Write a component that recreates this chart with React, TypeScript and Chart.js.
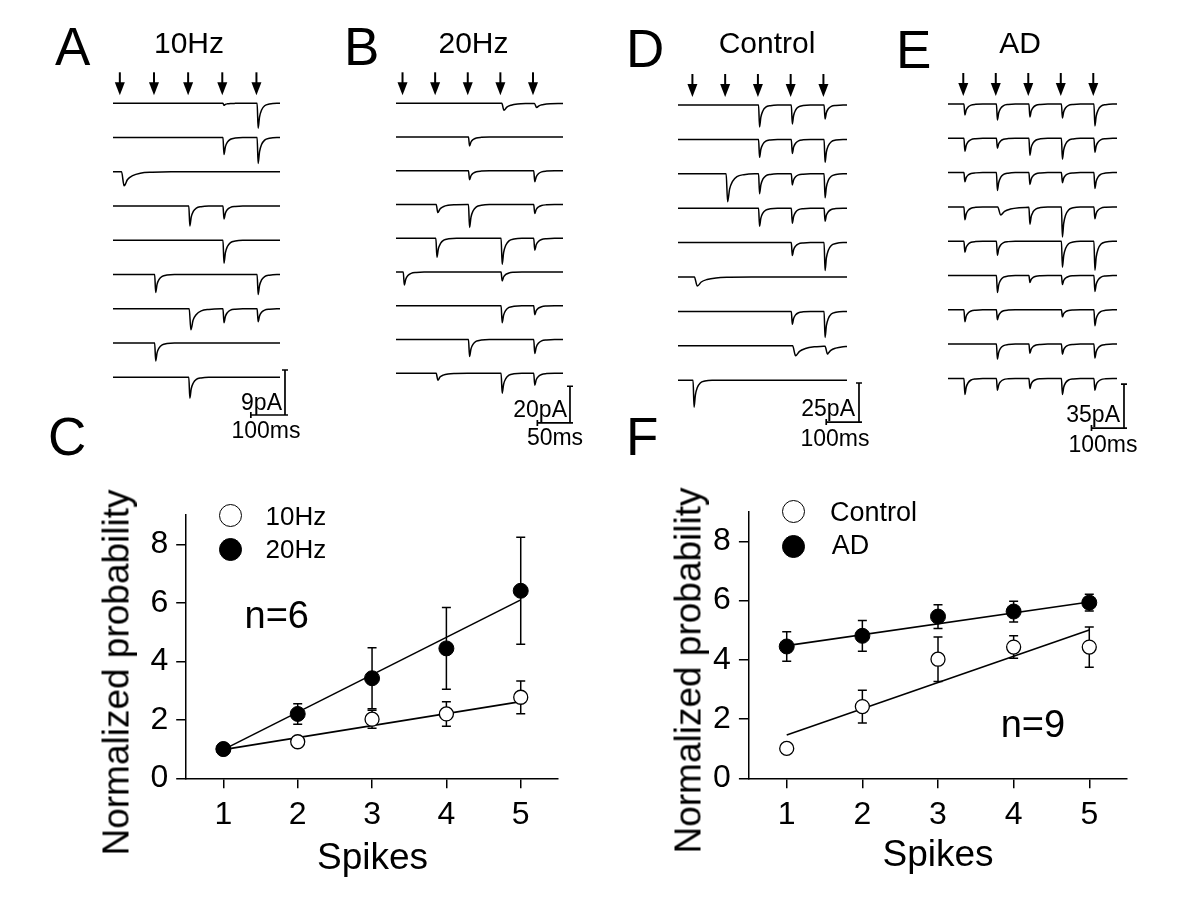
import React, { useEffect, useRef } from "react";
import { Chart, registerables } from "chart.js";
Chart.register(...registerables);

const FONT = '"Liberation Sans", Arial, Helvetica, sans-serif';
Chart.defaults.font.family = FONT;
Chart.defaults.color = "#000";

// ---------- EPSC waveform template (time after stimulus, fraction of peak) ----------
const EPSC_T_MS = [0, 2, 5, 9, 15, 24, 38, 60];
const EPSC_FRAC = [0, 0, 1, 0.55, 0.27, 0.1, 0.03, 0];

// ---------- Panel A: 10 Hz ----------
const A_STIM_MS = [20, 120, 220, 320, 420];
const A_AMPS_PA = [
  [0, 0, 0, 0.4, 5.0],
  [0, 0, 0, 3.4, 5.2],
  [2.8, 0, 0, 0, 0],
  [0, 0, 4.0, 2.6, 0],
  [0, 0, 0, 4.6, 0],
  [0, 3.6, 0, 0, 4.0],
  [0, 0, 4.2, 2.8, 2.6],
  [0, 3.6, 0, 0, 0],
  [0, 0, 4.2, 0, 0],
];
const A_SLOW = [[2, 0, 2.5], [6, 2, 1.6]];

// ---------- Panel B: 20 Hz ----------
const B_STIM_MS = [10, 60, 110, 160, 210];
const B_AMPS_PA = [
  [0, 0, 0, 3.8, 2.2],
  [0, 0, 4.9, 0, 0],
  [0, 0, 4.9, 0, 6.0],
  [0, 4.4, 12.5, 0, 4.9],
  [0, 10.4, 0, 14.2, 6.5],
  [7.1, 0, 0, 4.9, 0],
  [0, 0, 0, 9.3, 4.9],
  [0, 0, 9.3, 0, 7.6],
  [0, 3.8, 0, 10.9, 6.5],
];
const B_SLOW = [[0, 3, 2], [0, 4, 2], [3, 1, 1.5], [8, 1, 1.5]];

// ---------- Panel D: Control ----------
const D_STIM_MS = [44, 144, 244, 344, 444];
const D_AMPS_PA = [
  [0, 0, 14.1, 12.2, 9.0],
  [0, 0, 11.5, 9.0, 14.7],
  [0, 17.9, 12.8, 7.1, 15.4],
  [0, 0, 11.5, 9.6, 8.3],
  [0, 0, 0, 8.3, 17.9],
  [5.8, 0, 0, 0, 0],
  [0, 0, 0, 8.3, 16.7],
  [0, 0, 0, 6.4, 5.1],
  [17.3, 0, 0, 0, 0],
];
const D_SLOW = [[5, 0, 3], [7, 3, 3], [7, 4, 2.5], [2, 1, 1.5]];

// ---------- Panel E: AD ----------
const E_STIM_MS = [47, 147, 247, 347, 447];
const E_AMPS_PA = [
  [8.8, 12.7, 10.3, 11.1, 17.5],
  [10.3, 8.0, 13.5, 16.7, 11.1],
  [7.2, 14.3, 9.5, 8.0, 12.7],
  [10.3, 6.4, 13.5, 23.9, 9.5],
  [8.8, 11.1, 0, 20.7, 23.1],
  [0, 13.5, 5.6, 7.2, 12.7],
  [9.5, 8.0, 0, 5.6, 12.7],
  [0, 11.9, 7.2, 8.0, 11.1],
  [12.7, 9.5, 8.0, 12.7, 9.5],
];
const E_SLOW = [[3, 1, 3]];

// ---------- Panel C ----------
const SPIKES = [1, 2, 3, 4, 5];
const Y_TICKS = [0, 2, 4, 6, 8];
const HZ10_MEAN = [1.0, 1.25, 2.02, 2.2, 2.77];
const HZ10_SEM = [0, 0, 0.31, 0.42, 0.56];
const HZ20_MEAN = [1.0, 2.2, 3.42, 4.44, 6.41];
const HZ20_SEM = [0, 0.35, 1.04, 1.4, 1.83];
const FIT_X = [1, 5];
const FIT_HZ10 = [0.98, 2.62];
const FIT_HZ20 = [0.98, 6.1];

// ---------- Panel F ----------
const CTRL_MEAN = [1.01, 2.42, 4.02, 4.43, 4.43];
const CTRL_SEM = [0, 0.55, 0.75, 0.38, 0.68];
const AD_MEAN = [4.45, 4.81, 5.46, 5.63, 5.93];
const AD_SEM = [0.5, 0.52, 0.4, 0.35, 0.28];
const FIT_CTRL = [1.46, 5.01];
const FIT_AD = [4.48, 5.95];

// ---------- helpers ----------
function shapeAt(u: number): number {
  const n = EPSC_T_MS.length;
  if (u <= EPSC_T_MS[0] || u >= EPSC_T_MS[n - 1]) return 0;
  for (let k = 0; k < n - 1; k++) {
    if (u >= EPSC_T_MS[k] && u < EPSC_T_MS[k + 1]) {
      const r = (u - EPSC_T_MS[k]) / (EPSC_T_MS[k + 1] - EPSC_T_MS[k]);
      return EPSC_FRAC[k] + r * (EPSC_FRAC[k + 1] - EPSC_FRAC[k]);
    }
  }
  return 0;
}

function buildTrace(amps: number[], stims: number[], offset: number, tScale: number, slowOf: (k: number) => number, xMax: number) {
  const events = amps
    .map((a, k) => ({ a, t: stims[k], f: slowOf(k) * tScale }))
    .filter((e) => e.a > 0);
  const times = new Set<number>([0, xMax]);
  events.forEach((e) =>
    EPSC_T_MS.forEach((tt) => {
      const t = e.t + tt * e.f;
      if (t <= xMax) times.add(t);
    })
  );
  const sorted = Array.from(times).sort((p, q) => p - q);
  return sorted.map((t) => ({
    x: t,
    y: offset - events.reduce((s, e) => s + e.a * shapeAt((t - e.t) / e.f), 0),
  }));
}

const arrowPlugin = (stims: number[]) => ({
  id: "stimArrows",
  afterDraw(chart: any) {
    const { ctx } = chart;
    const xs = chart.scales.x;
    const ys = chart.scales.y;
    const b0 = ys.getPixelForValue(0);
    ctx.save();
    ctx.fillStyle = "#000";
    ctx.strokeStyle = "#000";
    ctx.lineWidth = 2;
    stims.forEach((t) => {
      const x = xs.getPixelForValue(t);
      const tip = b0 - 8;
      ctx.beginPath();
      ctx.moveTo(x, tip - 23);
      ctx.lineTo(x, tip - 10);
      ctx.stroke();
      ctx.beginPath();
      ctx.moveTo(x - 5, tip - 13);
      ctx.lineTo(x + 5, tip - 13);
      ctx.lineTo(x, tip);
      ctx.closePath();
      ctx.fill();
    });
    ctx.restore();
  },
});

const barPlugin = (bar: { ms: number; pA: number; x: number; y: number }) => ({
  id: "scaleBar",
  afterDraw(chart: any) {
    const { ctx } = chart;
    const xs = chart.scales.x;
    const ys = chart.scales.y;
    const x0 = xs.getPixelForValue(bar.x);
    const y0 = ys.getPixelForValue(bar.y);
    const x1 = xs.getPixelForValue(bar.x - bar.ms);
    const y1 = ys.getPixelForValue(bar.y + bar.pA);
    ctx.save();
    ctx.strokeStyle = "#000";
    ctx.lineWidth = 1.7;
    ctx.beginPath();
    ctx.moveTo(x1, y0);
    ctx.lineTo(x0, y0);
    ctx.lineTo(x0, y1);
    ctx.moveTo(x0 - 3, y1);
    ctx.lineTo(x0 + 3, y1);
    ctx.moveTo(x0 - 3, y0);
    ctx.lineTo(x0 + 3, y0);
    ctx.moveTo(x1, y0 - 3);
    ctx.lineTo(x1, y0 + 3);
    ctx.stroke();
    ctx.restore();
  },
});

const errPlugin = (groups: { mean: number[]; err: number[] }[]) => ({
  id: "errBars",
  beforeDatasetsDraw(chart: any) {
    const { ctx } = chart;
    const xs = chart.scales.x;
    const ys = chart.scales.y;
    ctx.save();
    ctx.strokeStyle = "#000";
    ctx.lineWidth = 1.5;
    groups.forEach((g) =>
      SPIKES.forEach((s, i) => {
        if (!g.err[i]) return;
        const x = xs.getPixelForValue(s);
        const yt = ys.getPixelForValue(g.mean[i] + g.err[i]);
        const yb = ys.getPixelForValue(g.mean[i] - g.err[i]);
        ctx.beginPath();
        ctx.moveTo(x, yt);
        ctx.lineTo(x, yb);
        ctx.moveTo(x - 4.5, yt);
        ctx.lineTo(x + 4.5, yt);
        ctx.moveTo(x - 4.5, yb);
        ctx.lineTo(x + 4.5, yb);
        ctx.stroke();
      })
    );
    ctx.restore();
  },
});

type TraceCfg = {
  stim: number[];
  amps: number[][];
  slow: number[][];
  xMax: number;
  yMin: number;
  yMax: number;
  row: number;
  tScale: number;
  bar: { ms: number; pA: number; x: number; y: number };
  left: number;
  width: number;
};

const PANEL_A: TraceCfg = { stim: A_STIM_MS, amps: A_AMPS_PA, slow: A_SLOW, xMax: 489, yMin: -63.34, yMax: 4.66, row: 6.85, tScale: 1, bar: { ms: 100, pA: 9, x: 503.6, y: -62.34 }, left: 113, width: 167 };
const PANEL_B: TraceCfg = { stim: B_STIM_MS, amps: B_AMPS_PA, slow: B_SLOW, xMax: 256, yMin: -172.6, yMax: 12.7, row: 18.39, tScale: 0.55, bar: { ms: 50, pA: 20, x: 266.7, y: -174.2 }, left: 396, width: 167 };
const PANEL_D: TraceCfg = { stim: D_STIM_MS, amps: D_AMPS_PA, slow: D_SLOW, xMax: 516, yMin: -201.9, yMax: 16.03, row: 22.05, tScale: 1, bar: { ms: 100, pA: 25, x: 552.6, y: -203.2 }, left: 678, width: 169 };
const PANEL_E: TraceCfg = { stim: E_STIM_MS, amps: E_AMPS_PA, slow: E_SLOW, xMax: 520, yMin: -251.4, yMax: 19.09, row: 27.29, tScale: 1, bar: { ms: 100, pA: 35, x: 541.5, y: -257.8 }, left: 948, width: 169 };

function TracePanel({ cfg }: { cfg: TraceCfg }) {
  const ref = useRef<HTMLCanvasElement>(null);
  useEffect(() => {
    const slowMap = new Map<string, number>(cfg.slow.map(([i, k, f]) => [`${i}-${k}`, f] as [string, number]));
    const datasets = cfg.amps.map((amps, i) => ({
      data: buildTrace(amps, cfg.stim, -i * cfg.row, cfg.tScale, (k) => slowMap.get(`${i}-${k}`) ?? 1, cfg.xMax),
      borderColor: "#000",
      borderWidth: 1.5,
      pointRadius: 0,
      cubicInterpolationMode: "monotone" as const,
      fill: false,
    }));
    const chart = new Chart(ref.current!, {
      type: "line",
      data: { datasets },
      options: {
        animation: false,
        responsive: false,
        events: [],
        layout: { padding: { left: 20, right: 40, top: 20, bottom: 40 } },
        plugins: { legend: { display: false }, tooltip: { enabled: false } },
        scales: {
          x: { type: "linear", min: 0, max: cfg.xMax, display: false },
          y: { min: cfg.yMin, max: cfg.yMax, display: false },
        },
      },
      plugins: [arrowPlugin(cfg.stim), barPlugin(cfg.bar)],
    } as any);
    return () => chart.destroy();
  }, [cfg]);
  const w = cfg.width + 60;
  return (
    <canvas
      ref={ref}
      width={w}
      height={400}
      style={{ position: "absolute", left: cfg.left - 20, top: 60, width: w, height: 400 }}
    />
  );
}

type PlotCfg = {
  left: number;
  yAxisW: number;
  padTop: number;
  padRight: number;
  open: { mean: number[]; err: number[] };
  filled: { mean: number[]; err: number[] };
  fitOpen: number[];
  fitFilled: number[];
};

const PLOT_C: PlotCfg = { left: 40, yAxisW: 146.2, padTop: 45, padRight: 22.1, open: { mean: HZ10_MEAN, err: HZ10_SEM }, filled: { mean: HZ20_MEAN, err: HZ20_SEM }, fitOpen: FIT_HZ10, fitFilled: FIT_HZ20 };
const PLOT_F: PlotCfg = { left: 620, yAxisW: 128.9, padTop: 41.7, padRight: 32.9, open: { mean: CTRL_MEAN, err: CTRL_SEM }, filled: { mean: AD_MEAN, err: AD_SEM }, fitOpen: FIT_CTRL, fitFilled: FIT_AD };

function PlotPanel({ cfg }: { cfg: PlotCfg }) {
  const ref = useRef<HTMLCanvasElement>(null);
  useEffect(() => {
    const pts = (m: number[]) => SPIKES.map((s, i) => ({ x: s, y: m[i] }));
    const fit = (f: number[]) => FIT_X.map((x, i) => ({ x, y: f[i] }));
    const tickFont = { family: FONT, size: 32 };
    const grid = { display: true, drawOnChartArea: false, drawTicks: true, tickLength: 10, color: "#000", lineWidth: 1.5 };
    const border = { display: true, color: "#000", width: 1.5 };
    const chart = new Chart(ref.current!, {
      type: "scatter",
      data: {
        datasets: [
          { data: pts(cfg.filled.mean), pointRadius: 7.5, pointBackgroundColor: "#000", pointBorderColor: "#000", pointBorderWidth: 1, showLine: false },
          { data: pts(cfg.open.mean), pointRadius: 7, pointBackgroundColor: "#fff", pointBorderColor: "#000", pointBorderWidth: 1.3, showLine: false },
          { data: fit(cfg.fitFilled), showLine: true, pointRadius: 0, borderColor: "#000", borderWidth: 1.6 },
          { data: fit(cfg.fitOpen), showLine: true, pointRadius: 0, borderColor: "#000", borderWidth: 1.6 },
        ],
      },
      options: {
        animation: false,
        responsive: false,
        events: [],
        layout: { padding: { left: 0, right: cfg.padRight, top: cfg.padTop, bottom: 0 } },
        plugins: { legend: { display: false }, tooltip: { enabled: false } },
        scales: {
          x: {
            type: "linear",
            min: 0.5,
            max: 5.5,
            afterBuildTicks: (s: any) => {
              s.ticks = SPIKES.map((v) => ({ value: v }));
            },
            afterFit: (s: any) => {
              s.height = 111.7;
            },
            ticks: { font: tickFont, color: "#000", padding: 8, maxRotation: 0, autoSkip: false },
            grid,
            border,
          },
          y: {
            min: 0,
            max: 9,
            afterBuildTicks: (s: any) => {
              s.ticks = Y_TICKS.map((v) => ({ value: v }));
            },
            afterFit: (s: any) => {
              s.width = cfg.yAxisW;
            },
            ticks: { font: tickFont, color: "#000", padding: 8 },
            grid,
            border,
          },
        },
      },
      plugins: [errPlugin([cfg.filled, cfg.open])],
    } as any);
    return () => chart.destroy();
  }, [cfg]);
  return (
    <canvas
      ref={ref}
      width={540}
      height={420}
      style={{ position: "absolute", left: cfg.left, top: 470, width: 540, height: 420 }}
    />
  );
}

function Txt({ x, y, fs, align = "left", children }: { x: number; y: number; fs: number; align?: "left" | "center" | "right"; children: React.ReactNode }) {
  const top = y - 0.8465 * fs;
  const base: React.CSSProperties = {
    position: "absolute",
    top,
    fontSize: fs,
    lineHeight: `${fs}px`,
    fontFamily: FONT,
    whiteSpace: "nowrap",
    color: "#000",
  };
  if (align === "left") return <div style={{ ...base, left: x }}>{children}</div>;
  if (align === "right") return <div style={{ ...base, left: x - 1000, width: 1000, textAlign: "right" }}>{children}</div>;
  return <div style={{ ...base, left: x - 500, width: 1000, textAlign: "center" }}>{children}</div>;
}

function VTxt({ cx, cy, fs, children }: { cx: number; cy: number; fs: number; children: React.ReactNode }) {
  return (
    <div
      style={{
        position: "absolute",
        left: cx - 300,
        top: cy - fs / 2,
        width: 600,
        height: fs,
        lineHeight: `${fs}px`,
        fontSize: fs,
        fontFamily: FONT,
        textAlign: "center",
        whiteSpace: "nowrap",
        transform: "rotate(-90deg)",
        color: "#000",
      }}
    >
      {children}
    </div>
  );
}

function Dot({ cx, cy, filled }: { cx: number; cy: number; filled: boolean }) {
  const r = 11.5;
  return (
    <div
      style={{
        position: "absolute",
        left: cx - r,
        top: cy - r,
        width: 2 * r,
        height: 2 * r,
        boxSizing: "border-box",
        borderRadius: "50%",
        border: "1.6px solid #000",
        background: filled ? "#000" : "#fff",
      }}
    />
  );
}

export default function App() {
  return (
    <div style={{ position: "absolute", left: 0, top: 0, width: 1200, height: 920, background: "#fff", overflow: "hidden" }}>
      <TracePanel cfg={PANEL_A} />
      <TracePanel cfg={PANEL_B} />
      <TracePanel cfg={PANEL_D} />
      <TracePanel cfg={PANEL_E} />
      <PlotPanel cfg={PLOT_C} />
      <PlotPanel cfg={PLOT_F} />

      {/* panel letters */}
      <Txt x={55} y={65} fs={53}>A</Txt>
      <Txt x={344} y={65} fs={53}>B</Txt>
      <Txt x={48} y={455} fs={53}>C</Txt>
      <Txt x={626} y={66.7} fs={53}>D</Txt>
      <Txt x={896} y={68} fs={53}>E</Txt>
      <Txt x={626} y={455} fs={53}>F</Txt>

      {/* trace titles */}
      <Txt x={189} y={53} fs={30} align="center">10Hz</Txt>
      <Txt x={473.5} y={53} fs={30} align="center">20Hz</Txt>
      <Txt x={767} y={53} fs={30} align="center">Control</Txt>
      <Txt x={1020} y={53} fs={30} align="center">AD</Txt>

      {/* scale bar labels */}
      <Txt x={282} y={410} fs={23} align="right">9pA</Txt>
      <Txt x={266} y={438} fs={23} align="center">100ms</Txt>
      <Txt x={567} y={417} fs={23} align="right">20pA</Txt>
      <Txt x={555} y={445} fs={23} align="center">50ms</Txt>
      <Txt x={855} y={416} fs={23} align="right">25pA</Txt>
      <Txt x={835} y={446} fs={23} align="center">100ms</Txt>
      <Txt x={1120} y={422} fs={23} align="right">35pA</Txt>
      <Txt x={1103} y={452} fs={23} align="center">100ms</Txt>

      {/* plot C texts */}
      <VTxt cx={116.2} cy={672} fs={37}>Normalized probability</VTxt>
      <Txt x={372.5} y={869.5} fs={37} align="center">Spikes</Txt>
      <Dot cx={230} cy={515} filled={false} />
      <Dot cx={230} cy={549} filled={true} />
      <Txt x={265.5} y={525} fs={26}>10Hz</Txt>
      <Txt x={265.5} y={558} fs={26}>20Hz</Txt>
      <Txt x={244.5} y={628.3} fs={38}>n=6</Txt>

      {/* plot F texts */}
      <VTxt cx={687.7} cy={670} fs={37}>Normalized probability</VTxt>
      <Txt x={938} y={866.5} fs={37} align="center">Spikes</Txt>
      <Dot cx={793.3} cy={511.7} filled={false} />
      <Dot cx={793.3} cy={546.7} filled={true} />
      <Txt x={830} y={521.7} fs={27}>Control</Txt>
      <Txt x={831.7} y={555} fs={27}>AD</Txt>
      <Txt x={1000.7} y={736.7} fs={38}>n=9</Txt>
    </div>
  );
}
